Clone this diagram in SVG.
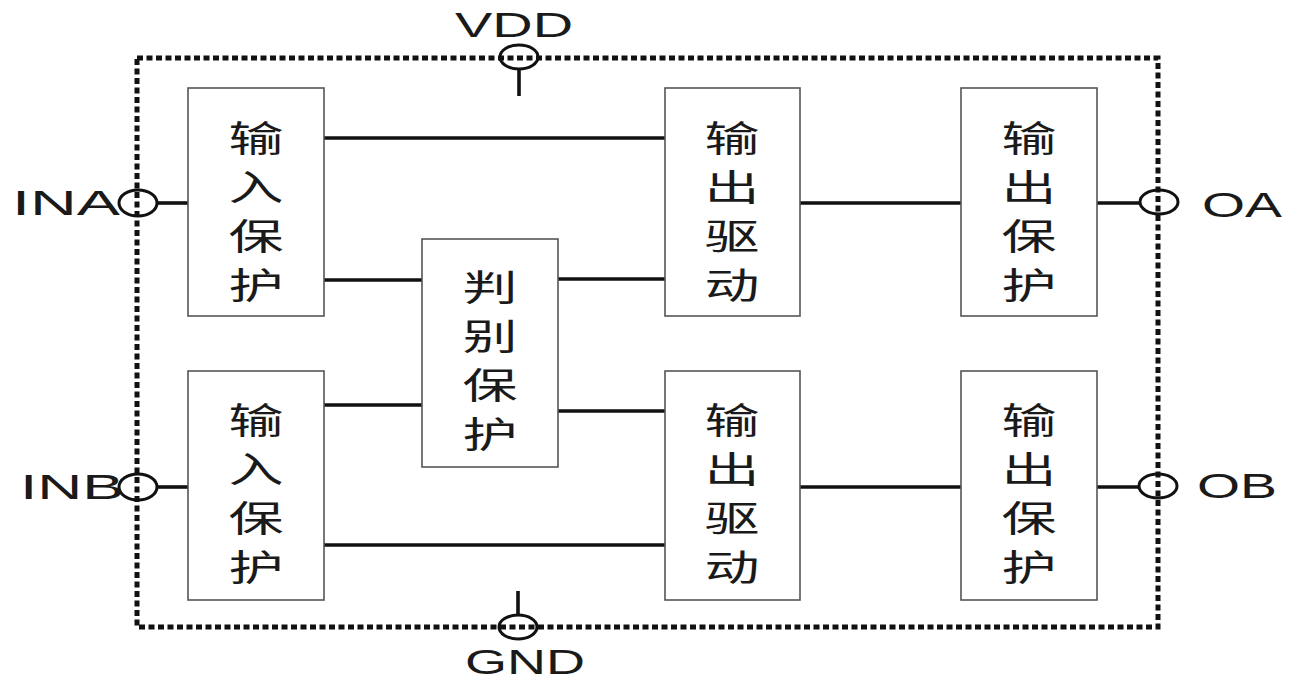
<svg xmlns="http://www.w3.org/2000/svg" width="1289" height="680" viewBox="0 0 1289 680">
<style>
.box{fill:#fff;stroke:#555;stroke-width:1.6}
.cn{font-family:"Noto Sans CJK SC","Noto Sans CJK JP",sans-serif;font-size:36px;fill:#1a1a1a;text-anchor:middle;dominant-baseline:central}
.lat{font-family:"Liberation Sans",Arial,sans-serif;font-size:35px;fill:#1a1a1a}
.wire{stroke:#111;stroke-width:3.6;fill:none}
.port{fill:none;stroke:#111;stroke-width:3}
.border{fill:none;stroke:#111;stroke-width:5;stroke-dasharray:6 3.5}
</style>
<rect width="1289" height="680" fill="#fff"/>
<rect class="border" x="137" y="58" width="1021" height="569"/>
<g id="connectors">
<line class="wire" x1="157" y1="203" x2="188" y2="203"/>
<line class="wire" x1="157" y1="487" x2="188" y2="487"/>
<line class="wire" x1="324" y1="138" x2="665" y2="138"/>
<line class="wire" x1="324" y1="280" x2="422" y2="280"/>
<line class="wire" x1="558" y1="279" x2="665" y2="279"/>
<line class="wire" x1="324" y1="405" x2="422" y2="405"/>
<line class="wire" x1="558" y1="411" x2="665" y2="411"/>
<line class="wire" x1="324" y1="545" x2="665" y2="545"/>
<line class="wire" x1="800" y1="203" x2="961" y2="203"/>
<line class="wire" x1="800" y1="487" x2="961" y2="487"/>
<line class="wire" x1="1097" y1="203" x2="1140" y2="203"/>
<line class="wire" x1="1097" y1="487" x2="1140" y2="487"/>
<line class="wire" x1="519" y1="69" x2="519" y2="96"/>
<line class="wire" x1="518" y1="591" x2="518" y2="615"/>
</g>
<g id="port-INA"><ellipse class="port" cx="138" cy="203" rx="19" ry="13"/><text class="lat" x="12" y="215" textLength="108" lengthAdjust="spacingAndGlyphs">INA</text></g>
<g id="port-INB"><ellipse class="port" cx="138" cy="487" rx="19" ry="13"/><text class="lat" x="20" y="499" textLength="104" lengthAdjust="spacingAndGlyphs">INB</text></g>
<g id="port-OA"><ellipse class="port" cx="1159" cy="202" rx="19" ry="12"/><text class="lat" x="1202" y="217" textLength="80" lengthAdjust="spacingAndGlyphs">OA</text></g>
<g id="port-OB"><ellipse class="port" cx="1158" cy="486" rx="19" ry="12"/><text class="lat" x="1197" y="498" textLength="80" lengthAdjust="spacingAndGlyphs">OB</text></g>
<g id="port-VDD"><ellipse class="port" cx="519" cy="57" rx="19" ry="12"/><text class="lat" x="455" y="37" textLength="118" lengthAdjust="spacingAndGlyphs">VDD</text></g>
<g id="port-GND"><ellipse class="port" cx="518" cy="627" rx="19" ry="12"/><text class="lat" x="465" y="674" font-size="33" textLength="120" lengthAdjust="spacingAndGlyphs">GND</text></g>
<g id="in-protect-a"><rect class="box" x="188" y="88" width="136" height="228"/>
<text class="cn" x="256" y="136" textLength="55" lengthAdjust="spacingAndGlyphs">输</text>
<text class="cn" x="256" y="185" textLength="55" lengthAdjust="spacingAndGlyphs">入</text>
<text class="cn" x="256" y="234" textLength="55" lengthAdjust="spacingAndGlyphs">保</text>
<text class="cn" x="256" y="283" textLength="55" lengthAdjust="spacingAndGlyphs">护</text></g>
<g id="in-protect-b"><rect class="box" x="188" y="371" width="136" height="229"/>
<text class="cn" x="256" y="418" textLength="55" lengthAdjust="spacingAndGlyphs">输</text>
<text class="cn" x="256" y="467" textLength="55" lengthAdjust="spacingAndGlyphs">入</text>
<text class="cn" x="256" y="516" textLength="55" lengthAdjust="spacingAndGlyphs">保</text>
<text class="cn" x="256" y="565" textLength="55" lengthAdjust="spacingAndGlyphs">护</text></g>
<g id="judge-protect"><rect class="box" x="422" y="239" width="136" height="228"/>
<text class="cn" x="490" y="285" textLength="55" lengthAdjust="spacingAndGlyphs">判</text>
<text class="cn" x="490" y="334" textLength="55" lengthAdjust="spacingAndGlyphs">别</text>
<text class="cn" x="490" y="383" textLength="55" lengthAdjust="spacingAndGlyphs">保</text>
<text class="cn" x="490" y="432" textLength="55" lengthAdjust="spacingAndGlyphs">护</text></g>
<g id="out-drive-a"><rect class="box" x="665" y="88" width="135" height="228"/>
<text class="cn" x="732" y="136" textLength="55" lengthAdjust="spacingAndGlyphs">输</text>
<text class="cn" x="732" y="185" textLength="55" lengthAdjust="spacingAndGlyphs">出</text>
<text class="cn" x="732" y="234" textLength="55" lengthAdjust="spacingAndGlyphs">驱</text>
<text class="cn" x="732" y="283" textLength="55" lengthAdjust="spacingAndGlyphs">动</text></g>
<g id="out-drive-b"><rect class="box" x="665" y="371" width="135" height="229"/>
<text class="cn" x="732" y="418" textLength="55" lengthAdjust="spacingAndGlyphs">输</text>
<text class="cn" x="732" y="467" textLength="55" lengthAdjust="spacingAndGlyphs">出</text>
<text class="cn" x="732" y="516" textLength="55" lengthAdjust="spacingAndGlyphs">驱</text>
<text class="cn" x="732" y="565" textLength="55" lengthAdjust="spacingAndGlyphs">动</text></g>
<g id="out-protect-a"><rect class="box" x="961" y="88" width="136" height="228"/>
<text class="cn" x="1029" y="136" textLength="55" lengthAdjust="spacingAndGlyphs">输</text>
<text class="cn" x="1029" y="185" textLength="55" lengthAdjust="spacingAndGlyphs">出</text>
<text class="cn" x="1029" y="234" textLength="55" lengthAdjust="spacingAndGlyphs">保</text>
<text class="cn" x="1029" y="283" textLength="55" lengthAdjust="spacingAndGlyphs">护</text></g>
<g id="out-protect-b"><rect class="box" x="961" y="371" width="136" height="229"/>
<text class="cn" x="1029" y="418" textLength="55" lengthAdjust="spacingAndGlyphs">输</text>
<text class="cn" x="1029" y="467" textLength="55" lengthAdjust="spacingAndGlyphs">出</text>
<text class="cn" x="1029" y="516" textLength="55" lengthAdjust="spacingAndGlyphs">保</text>
<text class="cn" x="1029" y="565" textLength="55" lengthAdjust="spacingAndGlyphs">护</text></g>
</svg>
